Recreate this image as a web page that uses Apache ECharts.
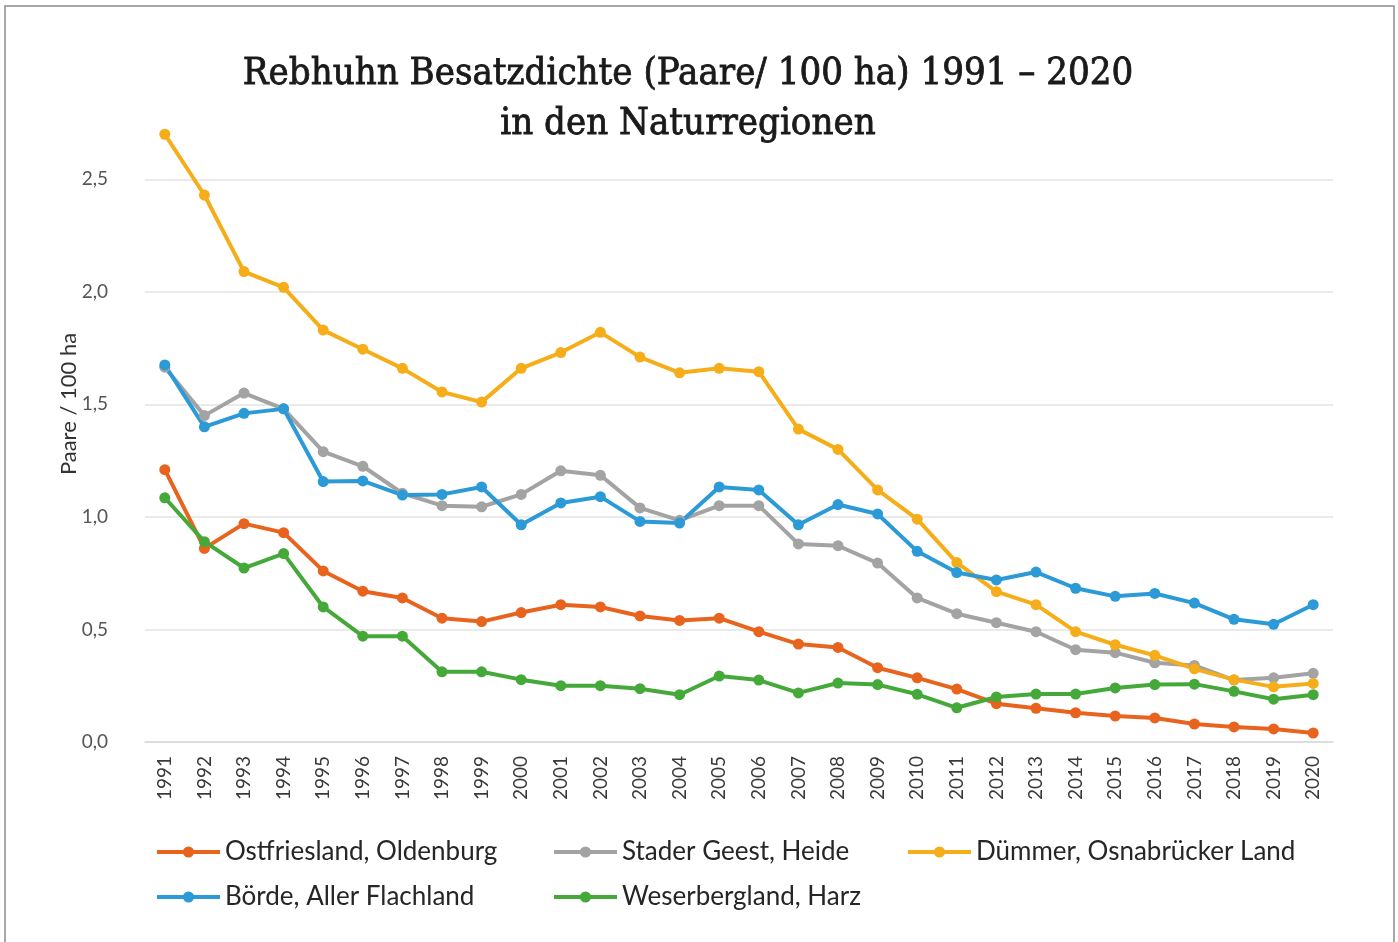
<!DOCTYPE html>
<html>
<head>
<meta charset="utf-8">
<title>Rebhuhn Besatzdichte</title>
<script src="https://cdn.jsdelivr.net/npm/echarts@6/dist/echarts.min.js"></script>
<style>
    html, body { margin: 0; padding: 0; background: #fff; }
    #chart { width: 1398px; height: 942px; }
</style>
</head>
<body>
<div id="chart"></div>
<script>
// Jahre und Werte (Paare / 100 ha)
var years = ['1991', '1992', '1993', '1994', '1995', '1996', '1997', '1998', '1999', '2000',
    '2001', '2002', '2003', '2004', '2005', '2006', '2007', '2008', '2009', '2010',
    '2011', '2012', '2013', '2014', '2015', '2016', '2017', '2018', '2019', '2020'];

var ostfriesland = [1.21, 0.86, 0.97, 0.93, 0.76, 0.67, 0.64, 0.55, 0.535, 0.575,
    0.61, 0.60, 0.56, 0.54, 0.55, 0.49, 0.435, 0.42, 0.33, 0.285,
    0.235, 0.17, 0.15, 0.13, 0.115, 0.107, 0.08, 0.067, 0.058, 0.04];

var stader = [1.665, 1.45, 1.55, 1.48, 1.29, 1.225, 1.105, 1.05, 1.045, 1.10,
    1.205, 1.185, 1.04, 0.985, 1.05, 1.05, 0.88, 0.872, 0.795, 0.64,
    0.57, 0.53, 0.49, 0.41, 0.397, 0.352, 0.34, 0.275, 0.285, 0.305];

var duemmer = [2.70, 2.43, 2.09, 2.02, 1.83, 1.745, 1.66, 1.555, 1.51, 1.66,
    1.73, 1.82, 1.71, 1.64, 1.66, 1.645, 1.39, 1.30, 1.12, 0.99,
    0.797, 0.668, 0.61, 0.49, 0.432, 0.385, 0.325, 0.277, 0.245, 0.26];

var boerde = [1.675, 1.40, 1.46, 1.48, 1.157, 1.16, 1.097, 1.10, 1.133, 0.965,
    1.062, 1.09, 0.98, 0.973, 1.133, 1.12, 0.965, 1.055, 1.013, 0.847,
    0.753, 0.72, 0.755, 0.683, 0.647, 0.66, 0.617, 0.545, 0.523, 0.61];

var weser = [1.085, 0.89, 0.773, 0.837, 0.60, 0.47, 0.47, 0.312, 0.312, 0.277,
    0.25, 0.25, 0.237, 0.21, 0.293, 0.275, 0.218, 0.262, 0.255, 0.212,
    0.152, 0.20, 0.213, 0.213, 0.24, 0.255, 0.257, 0.225, 0.19, 0.21];

var names = ['Ostfriesland, Oldenburg', 'Stader Geest, Heide', 'Dümmer, Osnabrücker Land',
    'Börde, Aller Flachland', 'Weserbergland, Harz'];
var colors = ['#E8641E', '#A3A3A3', '#F5AE1A', '#2B9AD6', '#45A93A'];
var yTicks = [0, 0.5, 1.0, 1.5, 2.0, 2.5];

var chartDom = document.getElementById('chart');
var myChart = echarts.init(chartDom, null, { renderer: 'canvas' });
var option;

function makeSeries(name, data, color) {
    return {
        name: name,
        type: 'line',
        data: data,
        symbol: 'circle',
        symbolSize: 11,
        color: color,
        lineStyle: { width: 4, color: color },
        itemStyle: { color: color },
        emphasis: { disabled: true },
        animation: false
    };
}

function makeLegend(left, data) {
    return {
        orient: 'vertical',
        left: left,
        top: 834,
        data: data,
        itemWidth: 63,
        itemHeight: 14,
        itemGap: 19,
        selectedMode: false,
        lineStyle: { width: 4 },
        textStyle: {
            fontFamily: 'Lato',
            fontSize: 26,
            lineHeight: 26,
            color: '#262626'
        }
    };
}

option = {
    backgroundColor: '#fff',
    color: colors,
    title: {
        text: 'Rebhuhn Besatzdichte (Paare/ 100 ha) 1991 – 2020\nin den Naturregionen',
        left: 683,
        top: 44,
        textAlign: 'center',
        textStyle: {
            fontFamily: 'DejaVu Serif Condensed',
            fontWeight: 'normal',
            fontSize: 38,
            lineHeight: 50,
            color: '#1a1a1a',
            textBorderColor: '#1a1a1a',
            textBorderWidth: 0.8
        }
    },
    graphic: [
        {
            type: 'rect',
            shape: { x: 5, y: 6, width: 1389, height: 945 },
            style: { fill: null, stroke: '#8c8c8c', lineWidth: 1.5 },
            silent: true
        },
        {
            type: 'text',
            x: 69,
            y: 404,
            rotation: Math.PI / 2,
            style: {
                text: 'Paare / 100 ha',
                fontFamily: 'Lato',
                fontSize: 22,
                fill: '#333333',
                textAlign: 'center',
                textVerticalAlign: 'middle'
            },
            silent: true
        }
    ],
    legend: [
        makeLegend(150, [names[0], names[3]]),
        makeLegend(547, [names[1], names[4]]),
        makeLegend(901, [names[2]])
    ],
    grid: {
        left: 145,
        right: 65,
        top: 123,
        bottom: 200
    },
    xAxis: {
        type: 'category',
        data: years,
        boundaryGap: true,
        axisLine: { lineStyle: { color: '#d9d9d9', width: 1.5 } },
        axisTick: { show: false },
        axisLabel: {
            rotate: 90,
            margin: 14,
            fontFamily: 'Lato',
            fontSize: 19,
            color: '#3a3a3a'
        }
    },
    yAxis: {
        type: 'value',
        min: 0,
        max: 2.75,
        interval: 0.5,
        axisLine: { show: false },
        axisTick: { show: false },
        splitLine: { show: true, showMaxLine: false, lineStyle: { color: '#e3e3e3', width: 1.5 } },
        axisLabel: {
            showMaxLabel: false,
            margin: 37,
            fontFamily: 'Lato',
            fontSize: 19,
            color: '#555555',
            formatter: function (value) {
                return yTicks.indexOf(value) >= 0 ? value.toFixed(1).replace('.', ',') : '';
            }
        }
    },
    series: [
        makeSeries(names[0], ostfriesland, colors[0]),
        makeSeries(names[1], stader, colors[1]),
        makeSeries(names[2], duemmer, colors[2]),
        makeSeries(names[3], boerde, colors[3]),
        makeSeries(names[4], weser, colors[4])
    ]
};

option && myChart.setOption(option);

window.addEventListener('resize', function () {
    myChart.resize();
});
</script>
</body>
</html>
